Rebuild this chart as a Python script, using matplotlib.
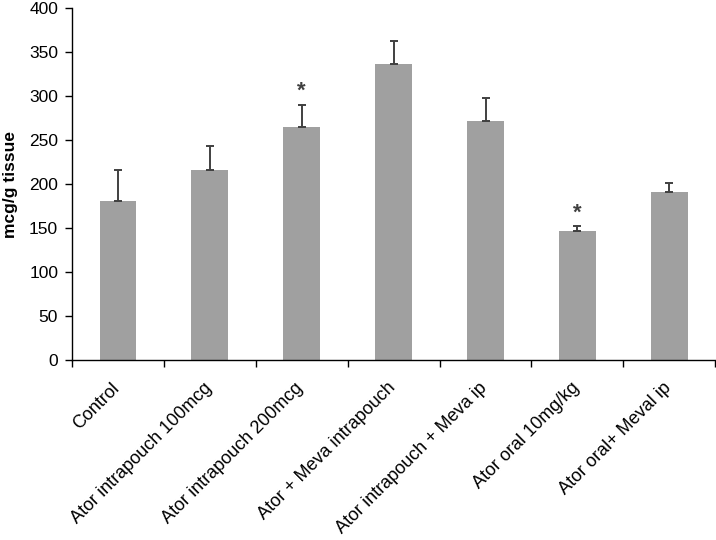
import matplotlib
matplotlib.use('Agg')
import matplotlib.pyplot as plt
import matplotlib.transforms as mtransforms
import numpy as np

groups = ['Control', 'Ator intrapouch 100mcg', 'Ator intrapouch 200mcg',
          'Ator + Meva intrapouch', 'Ator intrapouch + Meva ip',
          'Ator oral 10mg/kg', 'Ator oral+ Meval ip']
values = [181, 216, 265, 336, 272, 147, 191]
errors = [35, 27, 25, 27, 26, 5, 10]
starred = [False, False, True, False, False, True, False]

plt.rcParams['font.family'] = ['Liberation Sans', 'DejaVu Sans']

fig = plt.figure(figsize=(7.16, 5.4), dpi=100)
ax = fig.add_axes([0.1006, 0.3333, 0.8984, 0.6519])

x = np.arange(len(groups))
ax.bar(x, values, width=0.4, color='#a0a0a0', zorder=2)
ax.errorbar(x, values, yerr=[np.zeros(len(values)), errors], fmt='none',
            ecolor='#404040', elinewidth=1.4, capsize=3, capthick=1.4, zorder=3)
for xi, v, e, s in zip(x, values, errors, starred):
    if s:
        ax.text(xi, v + e + 3, '*', ha='center', va='bottom',
                fontsize=16, fontweight='bold', color='#404040')

ax.set_xlim(-0.5, len(groups) - 0.5)
ax.set_ylim(0, 400)
ax.set_yticks(np.arange(0, 401, 50))
ax.set_xticks(x)
ax.set_xticklabels(groups, rotation=45, ha='right', va='top',
                   rotation_mode='anchor', fontsize=13)
ax.tick_params(axis='x', which='major', length=0, pad=14)
shift = mtransforms.ScaledTranslation(-5 / 72, 0, fig.dpi_scale_trans)
for lab in ax.get_xticklabels():
    lab.set_transform(lab.get_transform() + shift)
ax.set_xticks(np.arange(-0.5, len(groups)), minor=True)
ax.tick_params(axis='x', which='minor', length=5, width=1, direction='out')
ax.tick_params(axis='y', length=5, width=1, labelsize=12.5, pad=5)
ax.set_ylabel('mcg/g tissue', fontsize=12.5, fontweight='bold', labelpad=8)

for sp in ['top', 'right']:
    ax.spines[sp].set_visible(False)
for sp in ['left', 'bottom']:
    ax.spines[sp].set_linewidth(1)

fig.savefig('out.png', dpi=100)
